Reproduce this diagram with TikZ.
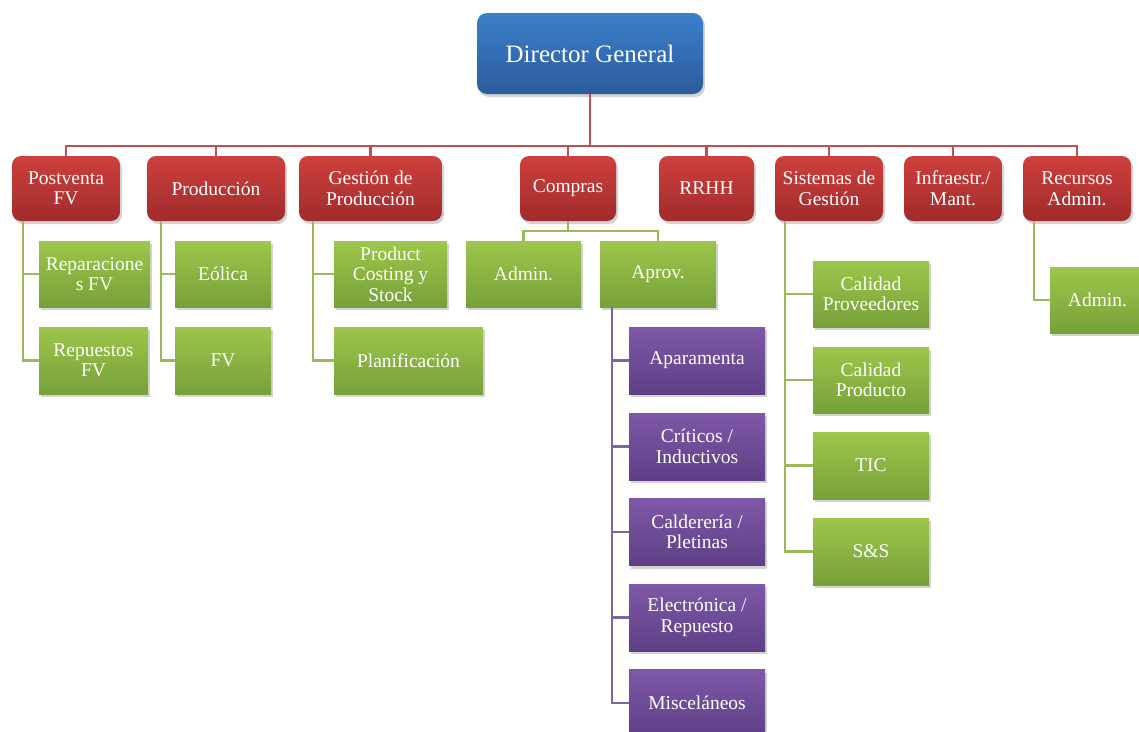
\documentclass[tikz,border=0pt]{standalone}
\usepackage{fontspec}
\setmainfont{Liberation Serif}
\usetikzlibrary{shadows,calc}
\definecolor{redT}{HTML}{CD403D}
\definecolor{redB}{HTML}{A02B2B}
\definecolor{bluT}{HTML}{3B7FCB}
\definecolor{bluB}{HTML}{2C5C9C}
\definecolor{grnT}{HTML}{9DC64B}
\definecolor{grnB}{HTML}{77A03A}
\definecolor{purT}{HTML}{7E58A7}
\definecolor{purB}{HTML}{5E3F86}
\definecolor{redL}{HTML}{C0504D}
\definecolor{grnL}{HTML}{9BBB59}
\definecolor{purL}{HTML}{8064A2}
\tikzset{
  box/.style={inner sep=0pt, align=center, text=white,
    font=\fontsize{19.5}{20.5}\selectfont,
    drop shadow={opacity=0.35, shadow xshift=2pt, shadow yshift=-3pt}},
  dgbox/.style={box, rounded corners=10pt, top color=bluT, bottom color=bluB,
    font=\fontsize{25}{26}\selectfont},
  redbox/.style={box, rounded corners=9pt, top color=redT, bottom color=redB},
  grnbox/.style={box, top color=grnT, bottom color=grnB},
  purbox/.style={box, top color=purT, bottom color=purB},
  redline/.style={draw=redL, line width=2.2pt},
  grnline/.style={draw=grnL, line width=2.2pt},
  purline/.style={draw=purL, line width=2.2pt},
}
\begin{document}
\begin{tikzpicture}[x=1pt,y=-1pt]
\useasboundingbox (0,0) rectangle (1139,731);
\clip (0,0) rectangle (1139,731);
% top
\node[dgbox, minimum width=226pt, minimum height=81pt] (dg) at (590,53.5) {Director General};
% level 1
\node[redbox, minimum width=108pt, minimum height=65pt] (pv) at (66,188.5) {Postventa\\FV};
\node[redbox, minimum width=138pt, minimum height=65pt] (prod) at (216,188.5) {Producción};
\node[redbox, minimum width=143pt, minimum height=65pt] (gp) at (370.5,188.5) {Gestión de\\Producción};
\node[redbox, minimum width=96pt, minimum height=65pt] (comp) at (568,188.5) {Compras};
\node[redbox, minimum width=95pt, minimum height=65pt] (rrhh) at (706.5,188.5) {RRHH};
\node[redbox, minimum width=108pt, minimum height=65pt] (sg) at (829,188.5) {Sistemas de\\Gestión};
\node[redbox, minimum width=98pt, minimum height=65pt] (inf) at (953,188.5) {Infraestr./\\Mant.};
\node[redbox, minimum width=108pt, minimum height=65pt] (ra) at (1077,188.5) {Recursos\\Admin.};
% green
\node[grnbox, minimum width=111pt, minimum height=66pt] (rep) at (94.5,274) {Reparacione\\s FV};
\node[grnbox, minimum width=109pt, minimum height=67pt] (repu) at (93.5,360.5) {Repuestos\\FV};
\node[grnbox, minimum width=96pt, minimum height=66pt] (eol) at (223,274) {Eólica};
\node[grnbox, minimum width=96pt, minimum height=67pt] (fv) at (223,360.5) {FV};
\node[grnbox, minimum width=113pt, minimum height=66pt] (pc) at (390.5,274) {Product\\Costing y\\Stock};
\node[grnbox, minimum width=149pt, minimum height=67pt] (plan) at (408.5,360.5) {Planificación};
\node[grnbox, minimum width=115pt, minimum height=66pt] (adm) at (523.5,274) {Admin.};
\node[grnbox, minimum width=116pt, minimum height=66pt] (aprov) at (658,274) {Aprov.};
\node[grnbox, minimum width=116pt, minimum height=66pt] (cp) at (871,294) {Calidad\\Proveedores};
\node[grnbox, minimum width=116pt, minimum height=66pt] (cpr) at (871,380) {Calidad\\Producto};
\node[grnbox, minimum width=116pt, minimum height=67pt] (tic) at (871,465.5) {TIC};
\node[grnbox, minimum width=116pt, minimum height=67pt] (ss) at (871,551.5) {S\&S};
\node[grnbox, minimum width=95pt, minimum height=66pt] (adm2) at (1097.5,300) {Admin.};
% purple
\node[purbox, minimum width=136pt, minimum height=67pt] (apa) at (697,360.5) {Aparamenta};
\node[purbox, minimum width=136pt, minimum height=67pt] (cri) at (697,446.5) {Críticos /\\Inductivos};
\node[purbox, minimum width=136pt, minimum height=67pt] (cal) at (697,532) {Calderería /\\Pletinas};
\node[purbox, minimum width=136pt, minimum height=67pt] (ele) at (697,617.5) {Electrónica /\\Repuesto};
\node[purbox, minimum width=136pt, minimum height=67pt] (mis) at (697,703) {Misceláneos};
% red connectors
\coordinate (bar) at (0,146);
\foreach \c in {pv,prod,gp,comp,rrhh,sg,inf,ra}
  \draw[redline] (dg.south) -- (dg.south |- bar) -| (\c.north);
% green connectors
\draw[grnline] ($(pv.south west)+(11,0)$) |- (rep.west);
\draw[grnline] ($(pv.south west)+(11,0)$) |- (repu.west);
\draw[grnline] ($(prod.south west)+(14,0)$) |- (eol.west);
\draw[grnline] ($(prod.south west)+(14,0)$) |- (fv.west);
\draw[grnline] ($(gp.south west)+(14,0)$) |- (pc.west);
\draw[grnline] ($(gp.south west)+(14,0)$) |- (plan.west);
\draw[grnline] (comp.south) -- ++(0,10) -| (adm.north);
\draw[grnline] (comp.south) -- ++(0,10) -| (aprov.north);
\foreach \c in {cp,cpr,tic,ss}
  \draw[grnline] ($(sg.south west)+(10,0)$) |- (\c.west);
\draw[grnline] ($(ra.south west)+(11,0)$) |- (adm2.west);
% purple connectors
\foreach \c in {apa,cri,cal,ele,mis}
  \draw[purline] ($(aprov.south west)+(12.5,0)$) |- (\c.west);
\end{tikzpicture}
\end{document}
